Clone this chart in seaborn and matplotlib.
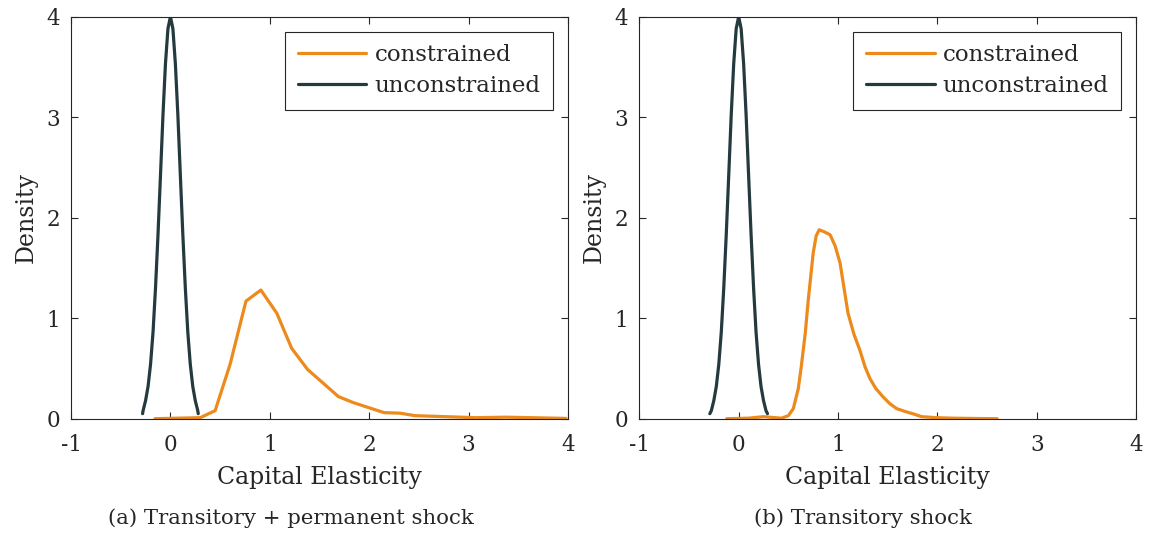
import numpy as np
import pandas as pd
import matplotlib
matplotlib.use("Agg")
import matplotlib.pyplot as plt
import seaborn as sns

# density curves
# (a) transitory + permanent shock
unc_a_x = [-0.28, -0.275, -0.25, -0.225, -0.20, -0.175, -0.15, -0.125, -0.10, -0.075, -0.05, -0.025,
           0.0, 0.025, 0.05, 0.075, 0.10, 0.125, 0.15, 0.175, 0.20, 0.225, 0.25, 0.275, 0.28]
unc_a_y = [0.05, 0.08, 0.18, 0.32, 0.54, 0.86, 1.30, 1.83, 2.42, 3.02, 3.53, 3.88,
           4.0, 3.88, 3.53, 3.02, 2.42, 1.83, 1.30, 0.86, 0.54, 0.32, 0.18, 0.08, 0.05]
con_a_x = [-0.155, 0.30, 0.45, 0.60, 0.76, 0.91, 1.07, 1.22, 1.38, 1.69, 1.84, 2.15, 2.31,
           2.46, 2.77, 3.07, 3.38, 3.98]
con_a_y = [0.0, 0.01, 0.08, 0.54, 1.17, 1.28, 1.05, 0.70, 0.49, 0.22, 0.16, 0.06, 0.055,
           0.03, 0.02, 0.01, 0.015, 0.003]

# (b) transitory shock
unc_b_x = [-0.29, -0.275, -0.25, -0.225, -0.20, -0.175, -0.15, -0.125, -0.10, -0.075, -0.05, -0.025,
           0.0, 0.025, 0.05, 0.075, 0.10, 0.125, 0.15, 0.175, 0.20, 0.225, 0.25, 0.275, 0.29]
unc_b_y = [0.05, 0.08, 0.18, 0.32, 0.54, 0.86, 1.30, 1.83, 2.42, 3.02, 3.53, 3.88,
           4.0, 3.88, 3.53, 3.02, 2.42, 1.83, 1.30, 0.86, 0.54, 0.32, 0.18, 0.08, 0.05]
con_b_x = [-0.12, 0.10, 0.25, 0.43, 0.50, 0.55, 0.60, 0.63, 0.67, 0.70, 0.75, 0.78, 0.81, 0.86,
           0.92, 0.97, 1.02, 1.06, 1.10, 1.16, 1.22, 1.27, 1.32, 1.38, 1.45, 1.52, 1.59, 1.68,
           1.76, 1.84, 1.99, 2.16, 2.40, 2.60]
con_b_y = [0.0, 0.005, 0.02, 0.005, 0.03, 0.10, 0.30, 0.52, 0.85, 1.18, 1.65, 1.82, 1.88, 1.86,
           1.83, 1.72, 1.55, 1.30, 1.05, 0.84, 0.68, 0.52, 0.40, 0.30, 0.22, 0.15, 0.10, 0.07,
           0.047, 0.02, 0.01, 0.005, 0.002, 0.0]

captions = ["(a) Transitory + permanent shock", "(b) Transitory shock"]
orange = "#EC8A1C"
dark = "#243A3E"

sns.set_style("ticks")
plt.rcParams["font.family"] = ["DejaVu Serif"]
plt.rcParams["axes.unicode_minus"] = False
plt.rcParams["xtick.direction"] = "in"
plt.rcParams["ytick.direction"] = "in"
plt.rcParams["axes.edgecolor"] = "#262626"

fig = plt.figure(figsize=(11.51, 5.35), dpi=100)
ax1 = fig.add_axes([0.0617, 0.2174, 0.4318, 0.7514])
ax2 = fig.add_axes([0.5554, 0.2174, 0.4318, 0.7514])

panels = [(ax1, con_a_x, con_a_y, unc_a_x, unc_a_y),
          (ax2, con_b_x, con_b_y, unc_b_x, unc_b_y)]

for ax, cx, cy, ux, uy in panels:
    dfc = pd.DataFrame({"x": cx, "y": cy})
    dfu = pd.DataFrame({"x": ux, "y": uy})
    sns.lineplot(data=dfc, x="x", y="y", ax=ax, color=orange, lw=2.3, sort=False, label="constrained")
    sns.lineplot(data=dfu, x="x", y="y", ax=ax, color=dark, lw=2.3, sort=False, label="unconstrained")
    ax.set_xlim(-1, 4)
    ax.set_ylim(0, 4)
    ax.set_xticks([-1, 0, 1, 2, 3, 4])
    ax.set_yticks([0, 1, 2, 3, 4])
    ax.tick_params(top=True, right=True, labelsize=15.5, length=5, width=0.8, colors="#262626")
    ax.tick_params(axis="x", pad=11)
    ax.tick_params(axis="y", pad=8)
    ax.set_xlabel("Capital Elasticity", fontsize=17, color="#262626", labelpad=7)
    ax.set_ylabel("Density", fontsize=17, color="#262626", labelpad=6)
    for s in ax.spines.values():
        s.set_linewidth(0.8)
    leg = ax.legend(loc="upper right", bbox_to_anchor=(0.970, 0.963), borderaxespad=0,
                    fontsize=16.5, fancybox=False, framealpha=1, edgecolor="#262626",
                    handlelength=3.0, handletextpad=0.35, labelspacing=0.4, borderpad=0.55)
    leg.get_frame().set_linewidth(0.8)

fig.text(291 / 1151, 1 - 518 / 535, captions[0], ha="center", va="center", fontsize=15.3)
fig.text(863 / 1151, 1 - 518 / 535, captions[1], ha="center", va="center", fontsize=15.3)

fig.savefig("out.png", dpi=100)
